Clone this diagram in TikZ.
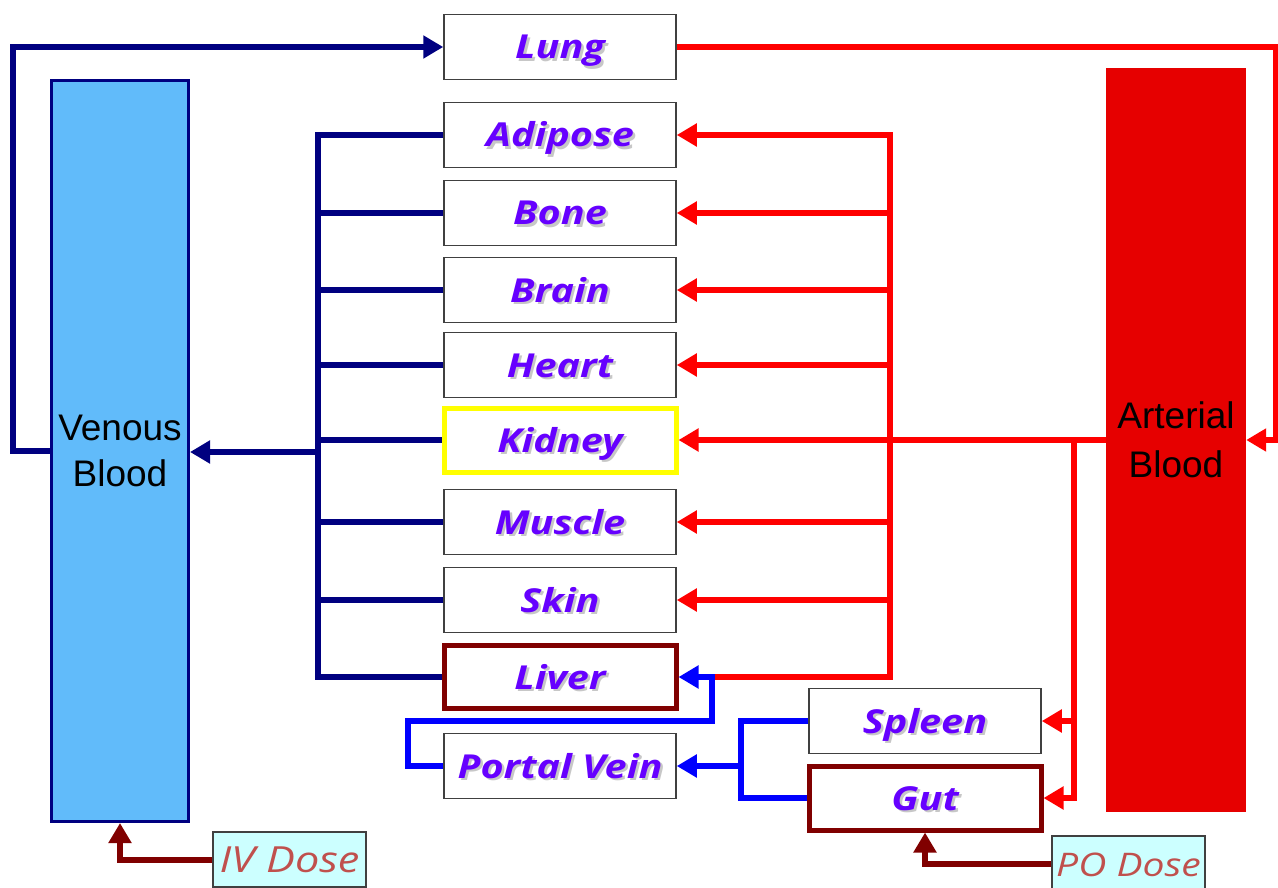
\documentclass[tikz,border=0pt]{standalone}
\usepackage{fontspec}
\setmainfont{Liberation Sans}
\newfontfamily\organfont[FakeStretch=1.2]{Open Sans}
\newfontfamily\dosefont[FakeStretch=1.2]{Open Sans}
\usetikzlibrary{arrows.meta}
\definecolor{navyc}{RGB}{0,0,128}
\definecolor{redc}{RGB}{255,0,0}
\definecolor{bluec}{RGB}{0,0,255}
\definecolor{darkredc}{RGB}{128,0,0}
\definecolor{yellowc}{RGB}{255,255,0}
\definecolor{venfill}{RGB}{97,187,250}
\definecolor{artfill}{RGB}{230,0,0}
\definecolor{dosefill}{RGB}{204,255,255}
\definecolor{dosetext}{RGB}{192,80,77}
\definecolor{organtext}{RGB}{102,0,255}
\definecolor{boxgray}{RGB}{64,64,64}
\newcommand\shtext[1]{\rlap{\kern2.5pt\raisebox{-2.5pt}{\textcolor{black!22}{#1}}}#1}
\tikzset{
  organ/.style={draw=boxgray, line width=1.5pt, fill=white, minimum width=232pt,
    minimum height=65pt, inner sep=0pt, text=organtext, text height=24pt, text depth=0pt,
    font=\organfont\bfseries\itshape\fontsize{33}{36}\selectfont},
  special/.style={organ, line width=5pt},
  dose/.style={draw=boxgray, line width=1.5pt, fill=dosefill, minimum width=153pt,
    minimum height=55pt, inner sep=0pt, text=dosetext, text height=25pt, text depth=0pt,
    font=\dosefont\itshape\fontsize{36}{38}\selectfont},
  tip/.style={-{Triangle[length=20pt,width=22pt]}},
  navyline/.style={draw=navyc, line width=6pt},
  redline/.style={draw=redc, line width=6pt},
  blueline/.style={draw=bluec, line width=6pt},
  drline/.style={draw=darkredc, line width=6pt},
  bloodtext/.style={align=center, font=\fontsize{37}{46}\selectfont, text=black}
}
\begin{document}
\begin{tikzpicture}[x=1pt,y=-1pt]
\useasboundingbox (0,0) rectangle (1278,888);
% blood compartments
\node[draw=navyc, line width=3pt, fill=venfill, minimum width=137pt, minimum height=741pt,
  inner sep=0pt, bloodtext] (venous) at (120,451) {Venous\\Blood};
\node[fill=artfill, minimum width=140pt, minimum height=743pt, inner sep=0pt, bloodtext]
  (arterial) at (1176,440) {\raisebox{3pt}{Arterial}\\Blood};
% organs
\node[organ] (lung) at (560,47) {\shtext{Lung}};
\node[organ] (adipose) at (560,135) {\shtext{Adipose}};
\node[organ] (bone) at (560,213) {\shtext{Bone}};
\node[organ] (brain) at (560,290) {\shtext{Brain}};
\node[organ] (heart) at (560,365) {\shtext{Heart}};
\node[special, draw=yellowc, minimum height=64pt] (kidney) at (560,440) {\shtext{Kidney}};
\node[organ] (muscle) at (560,522) {\shtext{Muscle}};
\node[organ] (skin) at (560,600) {\shtext{Skin}};
\node[special, draw=darkredc, minimum height=63pt] (liver) at (560,677) {\shtext{Liver}};
\node[organ] (portal) at (560,766) {\shtext{Portal Vein}};
\node[organ] (spleen) at (925,721) {\shtext{Spleen}};
\node[special, draw=darkredc, minimum height=64pt] (gut) at (925,798) {\shtext{Gut}};
% doses
\node[dose] (iv) at (289.5,859.5) {IV Dose};
\node[dose, minimum height=56pt, font=\dosefont\itshape\fontsize{32.5}{35}\selectfont]
  (po) at (1128.5,864) {PO Dose};
% coordinates
\coordinate (vb) at (318,452);
\coordinate (lcorner) at (13,451);
\coordinate (rcorner) at (1276,47);
\coordinate (rb) at (890,440);
\coordinate (rb2) at (1074,440);
\coordinate (lj) at (712,677);
\coordinate (pvc) at (408,721);
\coordinate (sj) at (741,766);
% venous -> lung
\draw[navyline, tip] (venous.west |- lcorner) -- (lcorner) |- (lung.west);
% organ outflow -> venous
\draw[navyline] (adipose.west) -| (vb) |- (liver.west);
\draw[navyline] (bone.west) -- (bone.west -| vb);
\draw[navyline] (brain.west) -- (brain.west -| vb);
\draw[navyline] (heart.west) -- (heart.west -| vb);
\draw[navyline] (kidney.west) -- (kidney.west -| vb);
\draw[navyline] (muscle.west) -- (muscle.west -| vb);
\draw[navyline] (skin.west) -- (skin.west -| vb);
\draw[navyline, tip] (vb) -- (venous.east |- vb);
% lung -> arterial
\draw[redline, tip] (lung.east) -- (rcorner) |- (arterial.east);
% arterial -> organs
\draw[redline, tip] (arterial.west) -- (kidney.east);
\draw[redline, tip] (lj) -| (rb |- adipose.east) -- (adipose.east);
\draw[redline, tip] (rb |- bone.east) -- (bone.east);
\draw[redline, tip] (rb |- brain.east) -- (brain.east);
\draw[redline, tip] (rb |- heart.east) -- (heart.east);
\draw[redline, tip] (rb |- muscle.east) -- (muscle.east);
\draw[redline, tip] (rb |- skin.east) -- (skin.east);
\draw[redline, tip] (rb2) |- (gut.east);
\draw[redline, tip] (rb2 |- spleen.east) -- (spleen.east);
% portal system
\draw[blueline, tip] (portal.west) -| (pvc) -| (lj) -- (liver.east);
\draw[blueline] (spleen.west) -| (sj) |- (gut.west);
\draw[blueline, tip] (sj) -- (portal.east);
% doses
\draw[drline, tip] (iv.west) -| (venous.south);
\draw[drline, tip] (po.west) -| (gut.south);
\end{tikzpicture}
\end{document}
